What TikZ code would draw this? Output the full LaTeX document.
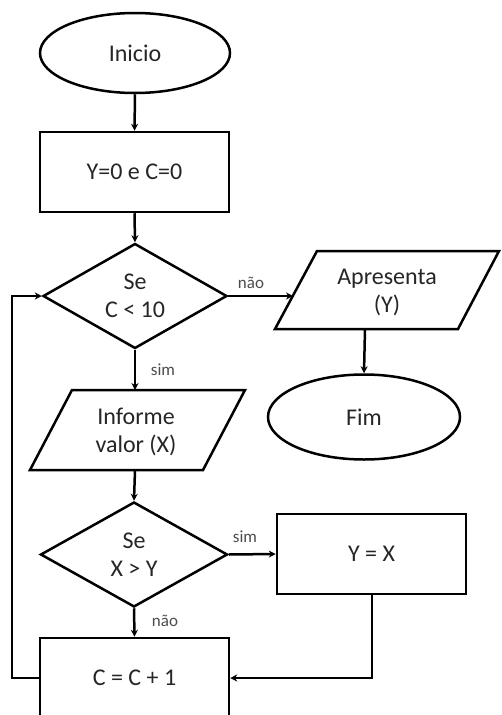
\documentclass[tikz,border=0pt]{standalone}
\usepackage{fontspec}
\setmainfont{Carlito}
\usetikzlibrary{shapes.geometric,arrows.meta}
\tikzset{
  shp/.style={draw=black,line width=2.5pt,inner sep=0pt,align=center,text=black!85,font=\fontsize{24}{28}\selectfont},
  term/.style={shp,ellipse},
  proc/.style={shp,rectangle},
  dec/.style={shp,diamond},
  para/.style={draw=black,line width=2.5pt,line join=miter},
  txt/.style={inner sep=0pt,align=center,text=black!85,font=\fontsize{24}{28}\selectfont},
  lbl/.style={inner sep=0pt,text=black!70,font=\fontsize{17}{20}\selectfont},
  conn/.style={line width=2.5pt,-{Stealth[length=7pt,width=7pt]}},
  plain/.style={line width=2.5pt}
}
\begin{document}
\begin{tikzpicture}[x=1pt,y=-1pt]
\useasboundingbox (0,0) rectangle (501,715);
\fill[white] (0,0) rectangle (501,715);
\node[term,minimum width=190pt,minimum height=80pt] (ini) at (135,53) {Inicio};
\node[proc,minimum width=189pt,minimum height=80pt] (init) at (134.5,172) {Y=0 e C=0};
\node[dec,minimum width=184pt,minimum height=105pt] (d1) at (135,296) {Se\\C < 10};
% Apresenta parallelogram
\draw[para] (317,251) -- (499,251) -- (458,329) -- (275,329) -- cycle;
\node[txt] (apr) at (387,292) {Apresenta\\(Y)};
\coordinate (aprL) at (293,296);
\coordinate (aprB) at (365,329);
\node[term,minimum width=192pt,minimum height=85pt] (fim) at (364,417) {Fim};
% Informe parallelogram
\draw[para] (72,390) -- (245,390) -- (203,470) -- (30,470) -- cycle;
\node[txt] (inf) at (136,432) {Informe\\valor (X)};
\coordinate (infT) at (135,390);
\coordinate (infB) at (135,470);
\node[dec,minimum width=187pt,minimum height=105pt] (d2) at (134,554.5) {Se\\X > Y};
\node[proc,minimum width=189pt,minimum height=80pt] (yx) at (371.5,554) {Y = X};
\node[proc,minimum width=189pt,minimum height=80pt] (cc) at (134.5,678) {C = C + 1};
% connectors
\draw[conn] (ini.south) -- (init.north);
\draw[conn] (init.south) -- (d1.north);
\draw[conn] (d1.east) -- (aprL);
\node[lbl] (nao1) at (251,283) {não};
\draw[conn] (aprB) -- (fim.north);
\draw[conn] (d1.south) -- (infT);
\node[lbl] (sim1) at (163,370) {sim};
\draw[conn] (infB) -- (d2.north);
\draw[conn] (d2.east) -- (yx.west);
\node[lbl] (sim2) at (245,537) {sim};
\draw[conn] (d2.south) -- (cc.north);
\node[lbl] (nao2) at (165,621) {não};
\draw[conn] (yx.south -| 372,0) |- (cc.east);
\draw[conn] (cc.west) -| (12,400) |- (d1.west);
\end{tikzpicture}
\end{document}
